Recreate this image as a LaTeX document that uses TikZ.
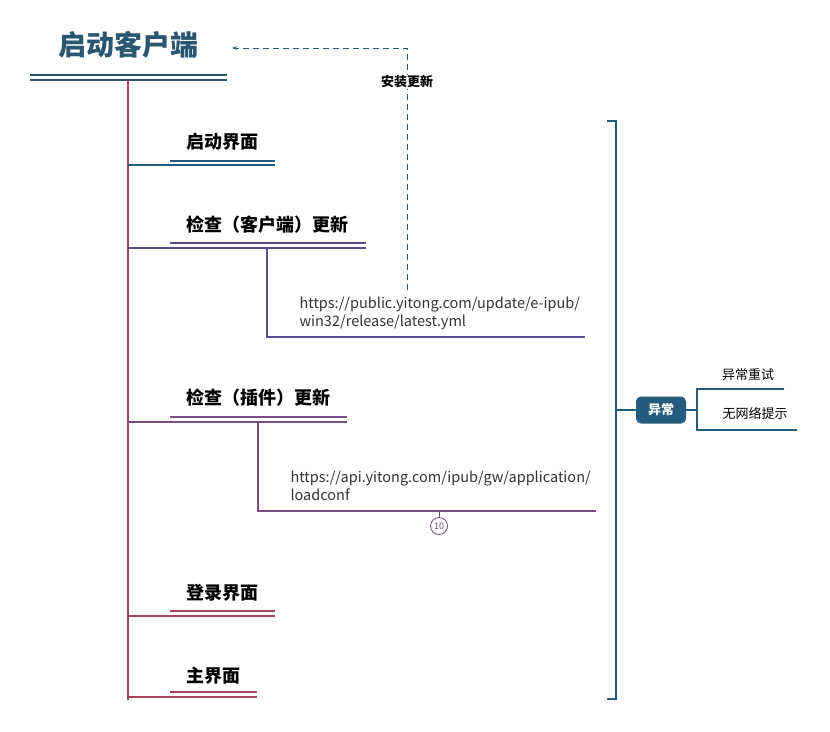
\documentclass[tikz,border=0pt]{standalone}
\usepackage{fontspec}
\setmainfont{Noto Sans CJK SC}
\usetikzlibrary{arrows.meta}
\definecolor{titleblue}{HTML}{2A5670}
\definecolor{darkblue}{HTML}{245B7E}
\definecolor{trunkred}{HTML}{A8455E}
\definecolor{violetA}{HTML}{5B4A8C}
\definecolor{violetB}{HTML}{7A4A85}
\definecolor{textgrey}{HTML}{333333}
\begin{document}
\begin{tikzpicture}[x=1pt,y=-1pt,
  topic/.style={font=\fontsize{18}{20}\selectfont\bfseries, text=black, anchor=west, inner sep=0pt},
  url/.style={font=\fontsize{14.5}{18}\selectfont, text=textgrey, align=left, anchor=west},
  small/.style={font=\fontsize{13}{15}\selectfont\bfseries, text=black},
  rule/.style={line width=1.5pt}]
  \useasboundingbox (0,0) rectangle (830,731);
  % title
  \node[font=\fontsize{28}{30}\selectfont\bfseries, text=titleblue] (root) at (128,45) {启动客户端};
  \draw[rule, titleblue] (30,75) -- (227,75);
  \draw[rule, titleblue] (30,80) -- (227,80);
  \draw[rule, trunkred] (128,80) -- (128,700);
  % startup screen
  \node[topic] (splash) at (186,142) {启动界面};
  \draw[rule, darkblue] (170,161) -- (275,161);
  \draw[rule, darkblue] (128,165) -- (275,165);
  % client update
  \node[topic] (client) at (186,225) {检查（客户端）更新};
  \draw[rule, violetA] (170,243) -- (366,243);
  \draw[rule, violetA] (128,248) -- (366,248);
  \draw[rule, violetA] (267,248) -- (267,337) -- (585,337);
  \node[url] (clienturl) at (296,313) {https://public.yitong.com/update/e-ipub/\\win32/release/latest.yml};
  \coordinate (dashfoot) at (407,290);
  \coordinate (dashhead) at (232,48);
  \draw[darkblue, dash pattern=on 6pt off 4pt, line width=0.9pt, -{Stealth[length=5pt]}] (dashfoot) -- (407,48) -- (dashhead);
  \node[small, fill=white, inner sep=1pt] (install) at (407,82) {安装更新};
  % plugin update
  \node[topic] (plugin) at (186,398) {检查（插件）更新};
  \draw[rule, violetB] (170,417) -- (347,417);
  \draw[rule, violetB] (128,422) -- (347,422);
  \draw[rule, violetB] (258,422) -- (258,511) -- (596,511);
  \node[url] (pluginurl) at (287,486) {https://api.yitong.com/ipub/gw/application/\\loadconf};
  \node[circle, draw=violetB, line width=0.8pt, inner sep=0pt, minimum size=17pt, font=\fontsize{9}{9}\selectfont, text=violetB] (mark) at (439,526) {10};
  \draw[violetB, line width=1pt] (439,511) -- (mark.north);
  % login
  \node[topic] (login) at (186,593) {登录界面};
  \draw[rule, trunkred] (170,611) -- (275,611);
  \draw[rule, trunkred] (128,616) -- (275,616);
  % main
  \node[topic] (home) at (186,676) {主界面};
  \draw[rule, trunkred] (170,692) -- (257,692);
  \draw[rule, trunkred] (128,697) -- (257,697);
  % exceptions
  \draw[rule, darkblue] (607,121) -- (616,121) -- (616,699) -- (607,699);
  \node[rounded corners=5pt, fill=darkblue, text=white, minimum width=50pt, minimum height=27pt, font=\fontsize{13}{15}\selectfont\bfseries] (error) at (661,410) {异常};
  \draw[rule, darkblue] (616,410) -- (error.west);
  \draw[rule, darkblue] (error.east) -- (697,410);
  \draw[rule, darkblue] (784,389) -- (697,389) -- (697,430) -- (797,430);
  \node[small, font=\fontsize{13}{15}\selectfont] (retry) at (748,375) {异常重试};
  \node[small, font=\fontsize{13}{15}\selectfont] (offline) at (755,413) {无网络提示};
\end{tikzpicture}
\end{document}
